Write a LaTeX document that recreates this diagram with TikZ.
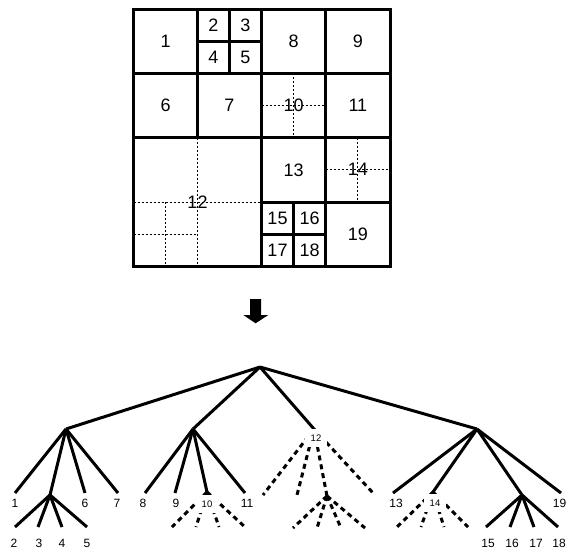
\documentclass[tikz,border=0pt]{standalone}
\usepackage{fontspec}
\setmainfont{Liberation Sans}
\begin{document}
\begin{tikzpicture}[x=1pt,y=-1pt,
  gridline/.style={line width=3pt},
  subdiv/.style={line width=1pt, dash pattern=on 2pt off 2pt},
  cellnum/.style={font=\fontsize{18}{18}\selectfont, inner sep=0pt},
  edge/.style={line width=3pt},
  dedge/.style={line width=3pt, dash pattern=on 5pt off 4pt},
  leaf/.style={font=\fontsize{12}{12}\selectfont, inner sep=0pt},
  smalllab/.style={font=\fontsize{9.5}{9.5}\selectfont, fill=white, inner xsep=6pt, inner ysep=5.5pt},
]
\useasboundingbox (0,0) rectangle (567,549);

% ---------- quadtree grid ----------
% dotted subdivisions
\draw[subdiv] (293.6,73) -- (293.6,137.5);
\draw[subdiv] (261.5,105.3) -- (325.8,105.3);
\draw[subdiv] (197.5,137.5) -- (197.5,266);
\draw[subdiv] (133.7,202) -- (261.5,202);
\draw[subdiv] (165.6,202) -- (165.6,266);
\draw[subdiv] (133.7,234.5) -- (197.5,234.5);
\draw[subdiv] (357.9,137.5) -- (357.9,202);
\draw[subdiv] (325.8,169.8) -- (390,169.8);

% solid cell borders
\draw[gridline] (133.7,9) rectangle (390,266);
\draw[gridline] (133.7,73) -- (390,73);
\draw[gridline] (133.7,137.5) -- (390,137.5);
\draw[gridline] (261.5,202) -- (390,202);
\draw[gridline] (197.5,9) -- (197.5,137.5);
\draw[gridline] (261.5,9) -- (261.5,266);
\draw[gridline] (325.8,9) -- (325.8,266);
\draw[gridline] (229.5,9) -- (229.5,73);
\draw[gridline] (197.5,41) -- (261.5,41);
\draw[gridline] (293.6,202) -- (293.6,266);
\draw[gridline] (261.5,234.5) -- (325.8,234.5);

% cell numbers
\node[cellnum] (g1) at (165.6,41) {1};
\node[cellnum] (g2) at (213.5,25) {2};
\node[cellnum] (g3) at (245.5,25) {3};
\node[cellnum] (g4) at (213.5,57) {4};
\node[cellnum] (g5) at (245.5,57) {5};
\node[cellnum] (g8) at (293.6,41) {8};
\node[cellnum] (g9) at (357.9,41) {9};
\node[cellnum] (g6) at (165.6,105.3) {6};
\node[cellnum] (g7) at (229.5,105.3) {7};
\node[cellnum] (g10) at (293.6,105.3) {10};
\node[cellnum] (g11) at (357.9,105.3) {11};
\node[cellnum] (g12) at (197.5,202) {12};
\node[cellnum] (g13) at (293.6,169.8) {13};
\node[cellnum] (g14) at (357.9,169.8) {14};
\node[cellnum] (g15) at (277.5,218.3) {15};
\node[cellnum] (g16) at (309.7,218.3) {16};
\node[cellnum] (g17) at (277.5,250.3) {17};
\node[cellnum] (g18) at (309.7,250.3) {18};
\node[cellnum] (g19) at (357.9,234.5) {19};

% ---------- arrow ----------
\fill (250,299) -- (261,299) -- (261,315) -- (268.3,315) -- (255.6,323.3)
      -- (243.3,315) -- (250,315) -- cycle;

% ---------- tree ----------
\coordinate (root) at (260,367);
\coordinate (A) at (66,429);
\coordinate (B) at (193,429);
\coordinate (C) at (314,429);
\coordinate (D) at (477,429);

\coordinate (t1) at (15,493);
\coordinate (sA) at (50,495);
\coordinate (t6) at (85,493);
\coordinate (t7) at (118,493);
\coordinate (t2) at (15,527);
\coordinate (t3) at (38,527);
\coordinate (t4) at (62,527);
\coordinate (t5) at (87,527);

\coordinate (t8) at (145,493);
\coordinate (t9) at (175,493);
\coordinate (t10) at (207,492);
\coordinate (t11) at (245,493);
\coordinate (u1) at (172,527);
\coordinate (u2) at (196,527);
\coordinate (u3) at (219,527);
\coordinate (u4) at (245,527);

\coordinate (v1) at (263,495);
\coordinate (v2) at (297,495);
\coordinate (sC) at (327,496);
\coordinate (v4) at (373,493);
\coordinate (w1) at (293,528);
\coordinate (w2) at (317,528);
\coordinate (w3) at (341,528);
\coordinate (w4) at (365,528);

\coordinate (t13) at (393,493);
\coordinate (t14) at (433,492);
\coordinate (sE) at (522,495);
\coordinate (t19) at (561,493);
\coordinate (x1) at (397,527);
\coordinate (x2) at (421,527);
\coordinate (x3) at (444,527);
\coordinate (x4) at (468,527);
\coordinate (t15) at (486,527);
\coordinate (t16) at (510,527);
\coordinate (t17) at (534,527);
\coordinate (t18) at (558,527);

% solid edges
\draw[edge] (root) -- (A);
\draw[edge] (root) -- (B);
\draw[edge] (root) -- (C);
\draw[edge] (root) -- (D);
\draw[edge] (A) -- (t1);
\draw[edge] (A) -- (sA);
\draw[edge] (A) -- (t6);
\draw[edge] (A) -- (t7);
\draw[edge] (sA) -- (t2);
\draw[edge] (sA) -- (t3);
\draw[edge] (sA) -- (t4);
\draw[edge] (sA) -- (t5);
\draw[edge] (B) -- (t8);
\draw[edge] (B) -- (t9);
\draw[edge] (B) -- (t10);
\draw[edge] (B) -- (t11);
\draw[edge] (D) -- (t13);
\draw[edge] (D) -- (t14);
\draw[edge] (D) -- (sE);
\draw[edge] (D) -- (t19);
\draw[edge] (sE) -- (t15);
\draw[edge] (sE) -- (t16);
\draw[edge] (sE) -- (t17);
\draw[edge] (sE) -- (t18);

% dashed edges
\draw[dedge] (t10) -- (u1);
\draw[dedge] (t10) -- (u2);
\draw[dedge] (t10) -- (u3);
\draw[dedge] (t10) -- (u4);
\draw[dedge] (C) -- (v1);
\draw[dedge] (C) -- (v2);
\draw[dedge] (C) -- (sC);
\draw[dedge] (C) -- (v4);
\draw[dedge] (sC) -- (w1);
\draw[dedge] (sC) -- (w2);
\draw[dedge] (sC) -- (w3);
\draw[dedge] (sC) -- (w4);
\draw[dedge] (t14) -- (x1);
\draw[dedge] (t14) -- (x2);
\draw[dedge] (t14) -- (x3);
\draw[dedge] (t14) -- (x4);

% leaf labels
\node[leaf] (n1) at (15,503) {1};
\node[leaf] (n6) at (85,503) {6};
\node[leaf] (n7) at (117,503) {7};
\node[leaf] (n8) at (143,503) {8};
\node[leaf] (n9) at (176,503) {9};
\node[smalllab] (n10) at (207,504) {10};
\node[leaf] (n11) at (247,503) {11};
\node[smalllab] (n12) at (316,438) {12};
\node[leaf] (n13) at (396,503) {13};
\node[smalllab] (n14) at (435,503) {14};
\node[leaf] (n19) at (559.5,503) {19};
\node[leaf] (n2) at (14,543) {2};
\node[leaf] (n3) at (39,543) {3};
\node[leaf] (n4) at (62,543) {4};
\node[leaf] (n5) at (87,543) {5};
\node[leaf] (n15) at (488,543) {15};
\node[leaf] (n16) at (512,543) {16};
\node[leaf] (n17) at (536,543) {17};
\node[leaf] (n18) at (559,543) {18};
\end{tikzpicture}
\end{document}
